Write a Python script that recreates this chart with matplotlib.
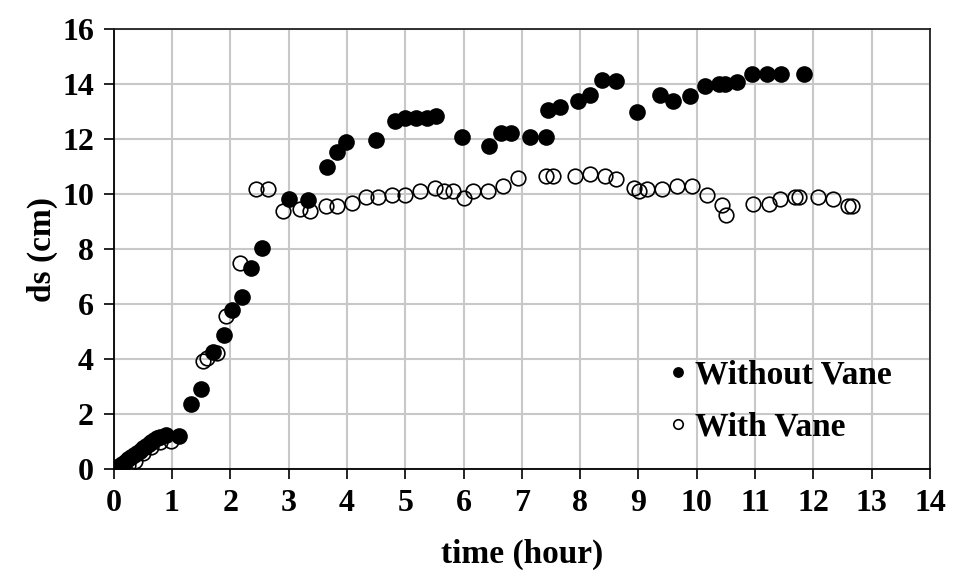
import matplotlib
matplotlib.use('Agg')
import matplotlib.pyplot as plt

# scour depth ds (cm) against time (hour)
t_without = [0, 0.05, 0.1, 0.15, 0.2, 0.25, 0.3, 0.35, 0.4, 0.45, 0.5, 0.55,
             0.6, 0.65, 0.7, 0.75, 0.8, 0.9, 1.12,
             1.33, 1.5, 1.70, 1.89, 2.03, 2.21, 2.36, 2.54, 3.0, 3.33,
             3.66, 3.83, 3.99, 4.5, 4.82, 5.0, 5.19, 5.37, 5.52, 5.98,
             6.43, 6.65, 6.82, 7.14, 7.41, 7.45, 7.66, 7.96, 8.17, 8.38,
             8.61, 8.98, 9.37, 9.59, 9.88, 10.14, 10.38, 10.48, 10.69,
             10.94, 11.2, 11.44, 11.83]
ds_without = [0, 0.06, 0.13, 0.2, 0.28, 0.36, 0.44, 0.52, 0.6, 0.68, 0.76, 0.84,
              0.92, 1.0, 1.06, 1.12, 1.18, 1.25, 1.2,
              2.36, 2.9, 4.27, 4.87, 5.78, 6.25, 7.32, 8.04, 9.82, 9.8,
              10.98, 11.53, 11.9, 11.99, 12.68, 12.78, 12.78, 12.78, 12.86, 12.07,
              11.75, 12.23, 12.23, 12.1, 12.1, 13.08, 13.16, 13.38, 13.62, 14.17,
              14.13, 12.99, 13.62, 13.38, 13.56, 13.93, 14.01, 14.01, 14.09,
              14.38, 14.38, 14.38, 14.38]

t_with = [0.05, 0.15, 0.25, 0.37, 0.5, 0.65, 0.8, 0.99,
          1.53, 1.6, 1.77, 1.93, 2.16, 2.45, 2.64, 2.91, 3.2, 3.37,
          3.65, 3.83, 4.09, 4.32, 4.53, 4.78, 5.0, 5.26, 5.51, 5.67,
          5.82, 6.01, 6.17, 6.42, 6.68, 6.93, 7.41, 7.54, 7.91, 8.17,
          8.43, 8.62, 8.93, 9.01, 9.15, 9.41, 9.66, 9.92, 10.18, 10.43,
          10.5, 10.96, 11.23, 11.42, 11.68, 11.75, 12.07, 12.33, 12.6, 12.66]
ds_with = [0.02, 0.08, 0.16, 0.3, 0.6, 0.8, 1.0, 1.02,
           3.93, 4.05, 4.23, 5.56, 7.5, 10.2, 10.2, 9.4, 9.47, 9.38,
           9.56, 9.56, 9.69, 9.89, 9.89, 9.99, 9.96, 10.13, 10.23, 10.11,
           10.13, 9.87, 10.13, 10.13, 10.29, 10.6, 10.68, 10.68, 10.65, 10.74,
           10.65, 10.57, 10.23, 10.13, 10.2, 10.2, 10.29, 10.29, 9.96, 9.6,
           9.26, 9.65, 9.65, 9.84, 9.89, 9.89, 9.89, 9.83, 9.56, 9.56]

x_ticks = list(range(0, 15))
y_ticks = list(range(0, 17, 2))

plt.rcParams['font.family'] = ['Liberation Serif', 'DejaVu Serif']
plt.rcParams['font.weight'] = 'bold'

fig = plt.figure(figsize=(9.54, 5.75), dpi=100)
ax = fig.add_axes([0.119, 0.184, 0.856, 0.765])

ax.plot(t_without, ds_without, 'o', color='black', markersize=12,
        markeredgewidth=0, label='Without Vane', zorder=3)
ax.plot(t_with, ds_with, 'o', markerfacecolor='none', markeredgecolor='black',
        markersize=10.5, markeredgewidth=1.2, label='With Vane', zorder=4)

ax.set_xlim(0, 14)
ax.set_ylim(0, 16)
ax.set_xticks(x_ticks)
ax.set_yticks(y_ticks)
ax.grid(True, color='#c8c8c8', linewidth=1.5)
ax.set_axisbelow(True)

for side in ['left', 'bottom']:
    ax.spines[side].set_color('black')
    ax.spines[side].set_linewidth(1.3)
for side in ['top', 'right']:
    ax.spines[side].set_color('#222222')
    ax.spines[side].set_linewidth(1.3)

ax.tick_params(direction='out', length=7, width=1.2, labelsize=23, pad=7)
for lbl in ax.get_xticklabels() + ax.get_yticklabels():
    lbl.set_fontweight('bold')

ax.set_xlabel('time (hour)', fontsize=24, fontweight='bold')
ax.set_ylabel('ds (cm)', fontsize=24, fontweight='bold')
ax.xaxis.set_label_coords(0.5, -0.158)
ax.yaxis.set_label_coords(-0.068, 0.5)

ax.legend(loc='center left', bbox_to_anchor=(0.679, 0.155), frameon=False,
          borderpad=0, borderaxespad=0,
          markerscale=0.65, handletextpad=0.2, handlelength=0.6,
          labelspacing=0.65, prop={'size': 24, 'weight': 'bold'})

fig.savefig('out.png', dpi=100)
